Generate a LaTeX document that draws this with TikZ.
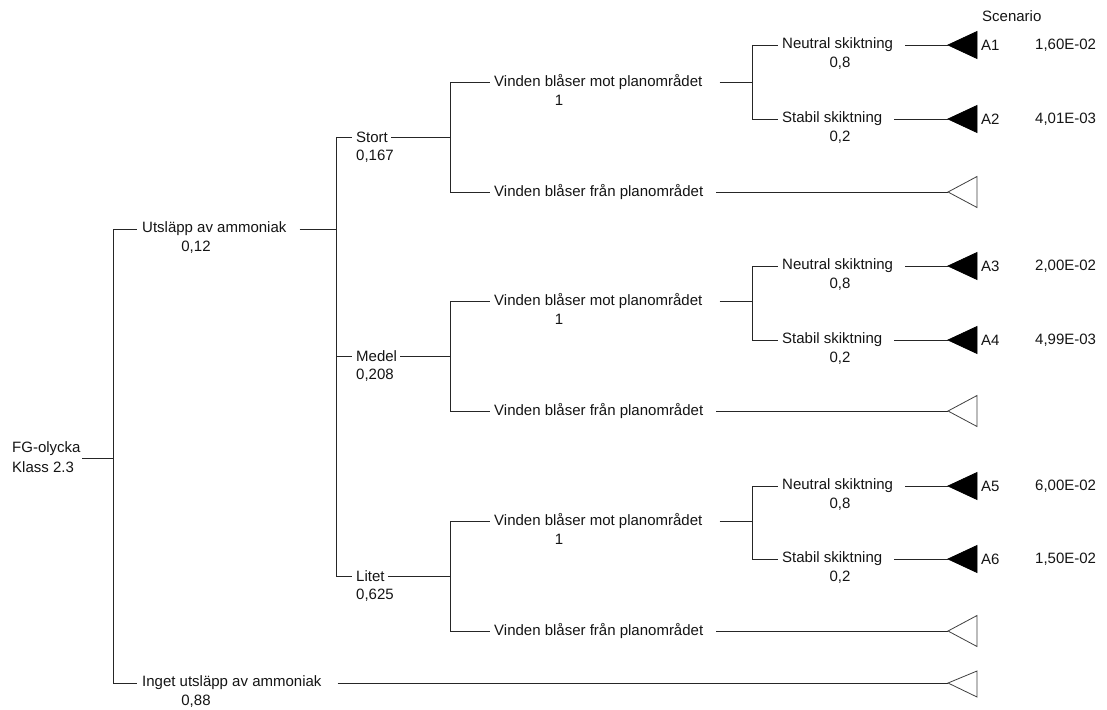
\documentclass[tikz,border=0pt]{standalone}
\usepackage{fontspec}
\setmainfont{Liberation Sans}
\begin{document}
\begin{tikzpicture}[x=1pt,y=-1pt,
  lbl/.style={anchor=west,inner sep=0pt,font=\fontsize{15}{17}\selectfont,text=black!92},
  prob/.style={anchor=center,inner sep=0pt,font=\fontsize{15}{17}\selectfont,text=black!92},
  br/.style={line width=0.8pt,draw=black!85},
  fulltri/.style={line width=0.8pt,draw=black,fill=black},
  opentri/.style={line width=0.8pt,draw=black!75,fill=white}]
\useasboundingbox (0,0) rectangle (1107,709);

% root
\node[lbl] (fg) at (12,449) {FG-olycka};
\node[lbl] (fgk) at (12,467) {Klass 2.3};
\coordinate (r0) at (82,458);
\coordinate (j0) at (113,458);
\coordinate (j0u) at (113,229);
\coordinate (j0d) at (113,683);
\draw[br] (r0) -- (j0);
\draw[br] (j0u) -- (j0d);

% Utslapp
\node[lbl] (u) at (142,229) {Utsläpp av ammoniak};
\node[prob] (up) at (196,247) {0,12};
\coordinate (j1) at (336,229);
\draw[br] (j0u) -- ([xshift=-5pt]u.west);
\draw[br] ([xshift=13pt]u.east) -- (j1);

% Inget
\node[lbl] (n) at (142,683) {Inget utsläpp av ammoniak};
\node[prob] (np) at (196,701) {0,88};
\coordinate (tn) at (948,683);
\draw[br] (j0d) -- ([xshift=-5pt]n.west);
\draw[br] ([xshift=16pt]n.east) -- (tn);
\draw[opentri] (tn) -- ++(29,-12) -- ++(0,26) -- cycle;

% sizes vertical
\coordinate (j1u) at (336,137);
\coordinate (j1d) at (336,576);
\draw[br] (j1u) -- (j1d);

\node[lbl] at (982,16) (scen) {Scenario};

\foreach \g/\sz/\szp/\ysz/\ym/\yf/\yn/\ys/\ea/\eb/\va/\vb in {%
  1/Stort/{0,167}/137/82/192/45/119/A1/A2/{1,60E-02}/{4,01E-03},%
  2/Medel/{0,208}/356/301/411/266/340/A3/A4/{2,00E-02}/{4,99E-03},%
  3/Litet/{0,625}/576/521/631/486/559/A5/A6/{6,00E-02}/{1,50E-02}}{
  % size node
  \node[lbl] (sz\g) at (356,\ysz) {\sz};
  \node[lbl] (szp\g) at (356,\ysz+19) {\szp};
  \coordinate (js\g) at (336,\ysz);
  \coordinate (jw\g) at (450,\ysz);
  \coordinate (jwu\g) at (450,\ym);
  \coordinate (jwd\g) at (450,\yf);
  \draw[br] (js\g) -- ([xshift=-4pt]sz\g.west);
  \draw[br] ([xshift=3pt]sz\g.east) -- (jw\g);
  \draw[br] (jwu\g) -- (jwd\g);
  % wind toward
  \node[lbl] (mot\g) at (494,\ym) {Vinden blåser mot planområdet};
  \node[prob] (motp\g) at (559,\ym+18) {1};
  \coordinate (jk\g) at (752,\ym);
  \coordinate (jku\g) at (752,\yn);
  \coordinate (jkd\g) at (752,\ys);
  \draw[br] (jwu\g) -- ([xshift=-4pt]mot\g.west);
  \draw[br] ([xshift=17pt]mot\g.east) -- (jk\g);
  \draw[br] (jku\g) -- (jkd\g);
  % wind away
  \node[lbl] (fr\g) at (494,\yf) {Vinden blåser från planområdet};
  \coordinate (tf\g) at (948,\yf);
  \draw[br] (jwd\g) -- ([xshift=-4pt]fr\g.west);
  \draw[br] ([xshift=13pt]fr\g.east) -- (tf\g);
  \draw[opentri] (tf\g) -- ++(29,-15.5) -- ++(0,31) -- cycle;
  % neutral
  \node[lbl] (ne\g) at (782,\yn) {Neutral skiktning};
  \node[prob] (nep\g) at (840,\yn+18) {0,8};
  \coordinate (tne\g) at (948,\yn);
  \draw[br] (jku\g) -- ([xshift=-4pt]ne\g.west);
  \draw[br] ([xshift=12pt]ne\g.east) -- (tne\g);
  \draw[fulltri] (tne\g) -- ++(29,-13.5) -- ++(0,27) -- cycle;
  \node[lbl] (ea\g) at (981,\yn) {\ea};
  \node[lbl] (va\g) at (1035,\yn) {\va};
  % stable
  \node[lbl] (st\g) at (782,\ys) {Stabil skiktning};
  \node[prob] (stp\g) at (840,\ys+18) {0,2};
  \coordinate (tst\g) at (948,\ys);
  \draw[br] (jkd\g) -- ([xshift=-4pt]st\g.west);
  \draw[br] ([xshift=12pt]st\g.east) -- (tst\g);
  \draw[fulltri] (tst\g) -- ++(29,-13.5) -- ++(0,27) -- cycle;
  \node[lbl] (eb\g) at (981,\ys) {\eb};
  \node[lbl] (vb\g) at (1035,\ys) {\vb};
}
\end{tikzpicture}
\end{document}
